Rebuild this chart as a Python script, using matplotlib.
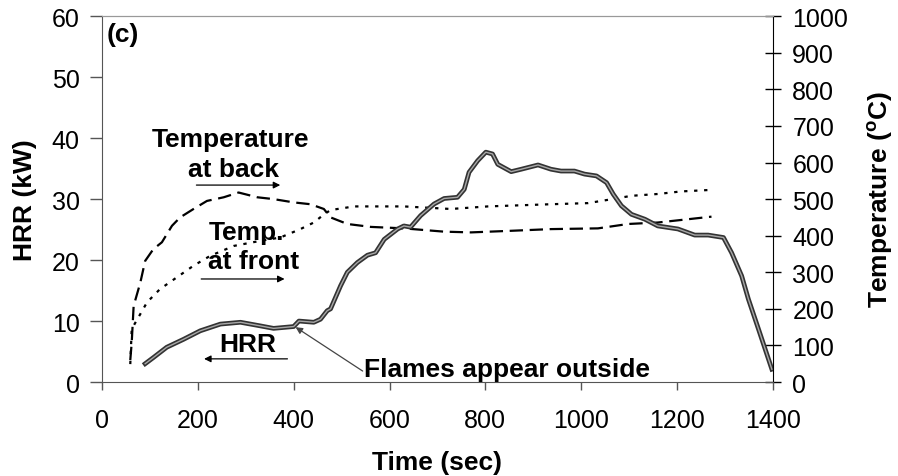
import numpy as np
import matplotlib
matplotlib.use("Agg")
import matplotlib.pyplot as plt

plt.rcParams['font.family'] = ['Liberation Sans', 'DejaVu Sans']

# HRR (kW) vs time (s)
hrr_t = [90, 107, 135, 170, 205, 247, 289, 331, 358, 400, 411, 442, 456, 470, 477,
         498, 512, 533, 554, 571, 589, 617, 630, 644, 665, 693, 714, 742, 756, 766,
         784, 801, 815, 826, 854, 875, 910, 937, 958, 986, 1007, 1032, 1053, 1067,
         1084, 1105, 1133, 1160, 1202, 1237, 1265, 1297, 1314, 1335, 1349, 1370, 1398]
hrr_v = [3.0, 4.0, 5.7, 7.0, 8.4, 9.5, 9.8, 9.2, 8.8, 9.1, 10.0, 9.8, 10.3, 11.7, 12.0,
         15.8, 18.0, 19.6, 20.8, 21.2, 23.4, 25.1, 25.6, 25.4, 27.3, 29.2, 30.1, 30.3, 31.6, 34.4,
         36.3, 37.7, 37.4, 35.7, 34.5, 34.9, 35.6, 34.9, 34.6, 34.6, 34.1, 33.8, 32.7, 30.8,
         28.9, 27.5, 26.7, 25.6, 25.1, 24.1, 24.1, 23.7, 21.2, 17.4, 13.6, 8.7, 2.1]

# temperature at back (dashed), degC
back_t = [59, 62, 66, 80, 90, 107, 125, 146, 163, 191, 219, 254, 285, 324, 358, 400,
          435, 463, 477, 512, 561, 630, 714, 770, 847, 937, 1035, 1098, 1160, 1209, 1272]
back_T = [60, 108, 208, 272, 331, 363, 382, 427, 450, 473, 495, 505, 518, 505, 500, 491,
          486, 473, 450, 432, 424, 420, 411, 409, 413, 418, 420, 432, 436, 443, 452]

# temperature at front (dotted), degC
front_t = [59, 62, 80, 94, 121, 156, 191, 226, 275, 331, 372, 414, 442, 463, 477,
           526, 630, 728, 805, 937, 1014, 1056, 1105, 1160, 1209, 1269]
front_T = [49, 145, 186, 218, 254, 286, 318, 345, 372, 386, 395, 418, 436, 458, 470,
           480, 480, 473, 480, 486, 489, 498, 509, 514, 521, 525]

fig = plt.figure(figsize=(8.98, 4.77), dpi=100)
ax = fig.add_axes([0.1136, 0.197, 0.747, 0.767])
ax2 = ax.twinx()

ax2.plot(back_t, back_T, color='black', lw=1.6, dashes=(6, 3))
ax2.plot(front_t, front_T, color='black', lw=1.6, dashes=(1.5, 3))
ax.plot(hrr_t, hrr_v, color='#333333', lw=3.4, zorder=3)
ax.plot(hrr_t, hrr_v, color='#a8a8a8', lw=1.0, zorder=4)
ax.set_zorder(2)
ax.patch.set_visible(False)

ax.set_xlim(0, 1400)
ax.set_ylim(0, 60)
ax2.set_ylim(0, 1000)
ax.set_xticks(np.arange(0, 1401, 200))
ax.set_yticks(np.arange(0, 61, 10))
ax2.set_yticks(np.arange(0, 1001, 100))

fs = 18
fb = 19
ax.tick_params(axis='x', direction='out', length=6, width=1, color='#555555',
               labelsize=fs, pad=13)
ax.tick_params(axis='y', direction='out', length=9, width=1, color='#555555',
               labelsize=fs, pad=7)
ax2.tick_params(axis='y', direction='inout', length=12, width=1, color='black',
                labelsize=fs, pad=8)

for s in ['left', 'bottom']:
    ax.spines[s].set_color('#555555')
ax.spines['top'].set_color('#999999')
ax.spines['right'].set_visible(False)
ax2.spines['left'].set_visible(False)
ax2.spines['bottom'].set_visible(False)
ax2.spines['top'].set_color('#999999')
ax2.spines['right'].set_color('black')

ax.set_xlabel('Time (sec)', fontsize=fb, fontweight='bold', labelpad=13)
ax.set_ylabel('HRR (kW)', fontsize=fb, fontweight='bold', labelpad=11)
ax2.set_ylabel('Temperature ($^{\\mathregular{o}}$C)', fontsize=fb, fontweight='bold', labelpad=12)

tk = dict(fontsize=fb, fontweight='bold', zorder=5)
ax.text(10, 57, '(c)', ha='left', va='center', **tk)
ax.text(268, 39.8, 'Temperature', ha='center', va='center', **tk)
ax.text(274, 34.9, 'at back', ha='center', va='center', **tk)
ax.text(301, 24.6, 'Temp.', ha='center', va='center', **tk)
ax.text(316, 19.8, 'at front', ha='center', va='center', **tk)
ax.text(305, 6.2, 'HRR', ha='center', va='center', **tk)
ax.text(546, 1.0, 'Flames appear outside', ha='left', va='baseline', **tk)

ap = dict(arrowstyle='-|>', color='black', lw=0.9, mutation_scale=10, shrinkA=0, shrinkB=0)
ax.annotate('', xy=(372, 32.3), xytext=(197, 32.3), arrowprops=ap)
ax.annotate('', xy=(381, 16.9), xytext=(207, 16.9), arrowprops=ap)
ax.annotate('', xy=(213, 3.8), xytext=(387, 3.8), arrowprops=ap)
ax.annotate('', xy=(404, 9.0), xytext=(544, 1.8),
            arrowprops=dict(arrowstyle='-|>', color='#444444', lw=0.9, mutation_scale=10,
                            shrinkA=0, shrinkB=0))

fig.savefig('out.png', dpi=100)
